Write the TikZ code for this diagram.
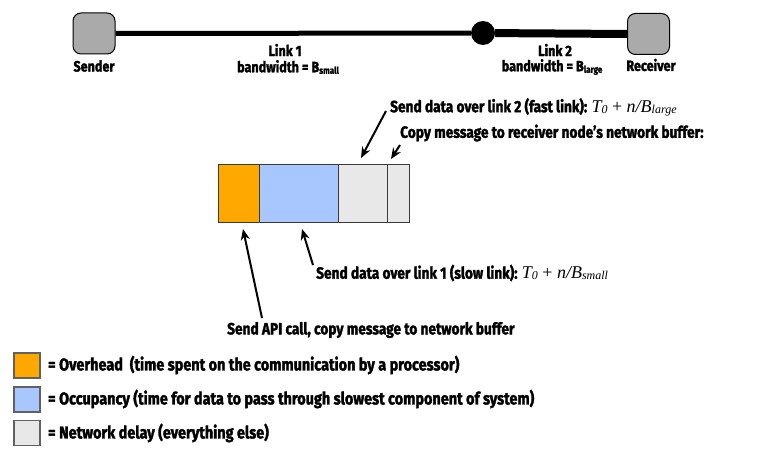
\documentclass[tikz,border=0pt]{standalone}
\usepackage{fontspec}
\setmainfont{Fira Sans}[FakeStretch=0.84,BoldFont={Fira Sans Bold},BoldFeatures={FakeBold=1.8}]
\newfontfamily\tms{Liberation Serif}
\usetikzlibrary{arrows.meta,calc}
\definecolor{ovh}{HTML}{FFA800}
\definecolor{occ}{HTML}{A8C6FF}
\definecolor{dly}{HTML}{E8E8E8}
\definecolor{nodegray}{HTML}{AAAAAA}
\definecolor{edge}{HTML}{3A3A3A}
\newcommand{\sm}[1]{\raisebox{-1.5pt}{\fontsize{9.5}{9.5}\selectfont #1}}
\newcommand{\formula}[1]{{\tms\mdseries\itshape\fontsize{18}{18}\selectfont T\raisebox{-1pt}{\fontsize{12}{12}\selectfont 0}\ \upshape+\ \itshape n/B\raisebox{-1pt}{\fontsize{12}{12}\selectfont #1}}}
\begin{document}
\begin{tikzpicture}[x=1pt,y=-1pt,
  txt/.style={font=\bfseries\fontsize{16.3}{16.3}\selectfont, inner sep=0pt},
  toptxt/.style={font=\bfseries\fontsize{15}{15}\selectfont, inner sep=0pt},
  legtxt/.style={font=\bfseries\fontsize{17.2}{17.2}\selectfont, inner sep=0pt, anchor=west},
  endpt/.style={draw=black, fill=nodegray, rounded corners=8pt, minimum width=42pt, minimum height=41pt, inner sep=0pt, line width=1pt},
  seg/.style={draw=edge, line width=1.2pt, minimum height=58pt, inner sep=0pt, anchor=north west},
  legbox/.style={draw=edge!80, line width=1.2pt, minimum width=26pt, minimum height=25pt, inner sep=0pt},
  arr/.style={-{Stealth[length=11pt,width=9pt]}, line width=2pt}]
\useasboundingbox (0,0) rectangle (773,452);
% top network
\node[endpt] (sender) at (94,33.5) {};
\node[endpt] (receiver) at (648.5,34) {};
\node[circle, fill=black, minimum size=24pt, inner sep=0pt] (hub) at (483,33) {};
\draw[line width=5pt] (sender.east) -- (hub);
\draw[line width=8pt] (hub) -- (receiver.west);
\node[toptxt] (slab) at (94,66) {Sender};
\node[toptxt] (rlab) at (651,65) {Receiver};
\node[toptxt] (l1) at (285,50) {Link 1};
\node[toptxt] (bw1) at (288,67) {bandwidth = B\sm{small}};
\node[toptxt] (l2) at (555,50) {Link 2};
\node[toptxt] (bw2) at (552,67) {bandwidth = B\sm{large}};
% timeline bar
\node[seg, fill=ovh, minimum width=41pt] (s1) at (218,164) {};
\node[seg, fill=occ, minimum width=79pt] (s2) at (259,164) {};
\node[seg, fill=dly, minimum width=49pt] (s3) at (338,164) {};
\node[seg, fill=dly, minimum width=22pt] (s4) at (387,164) {};
% labels
\node[txt, anchor=west] (t2) at (390,107) {Send data over link 2 (fast link): \formula{large}};
\node[txt, anchor=west] (tc) at (400,133) {Copy message to receiver node’s network buffer:};
\node[txt, anchor=west] (t1) at (316,273) {Send data over link 1 (slow link): \formula{small}};
\node[txt, anchor=west] (tapi) at (227,330) {Send API call, copy message to network buffer};
% arrows
\coordinate (a2s) at (386,111);
\coordinate (a2e) at (361,158);
\coordinate (acs) at (400,145);
\coordinate (ace) at (391,159);
\coordinate (a1s) at (313,265);
\coordinate (a1e) at (302,229);
\coordinate (aas) at (262,318);
\coordinate (aae) at (243,229);
\draw[arr] (a2s) -- (a2e);
\draw[arr] (acs) -- (ace);
\draw[arr] (a1s) -- (a1e);
\draw[arr] (aas) -- (aae);
% legend
\node[legbox, fill=ovh] (k1) at (27,365.5) {};
\node[legbox, fill=occ] (k2) at (27,399.5) {};
\node[legbox, fill=dly] (k3) at (27,433) {};
\node[legtxt] (k1t) at (48,365) {= Overhead\ \ (time spent on the communication by a processor)};
\node[legtxt] (k2t) at (48,399) {= Occupancy (time for data to pass through slowest component of system)};
\node[legtxt] (k3t) at (48,433) {= Network delay (everything else)};
\end{tikzpicture}
\end{document}
